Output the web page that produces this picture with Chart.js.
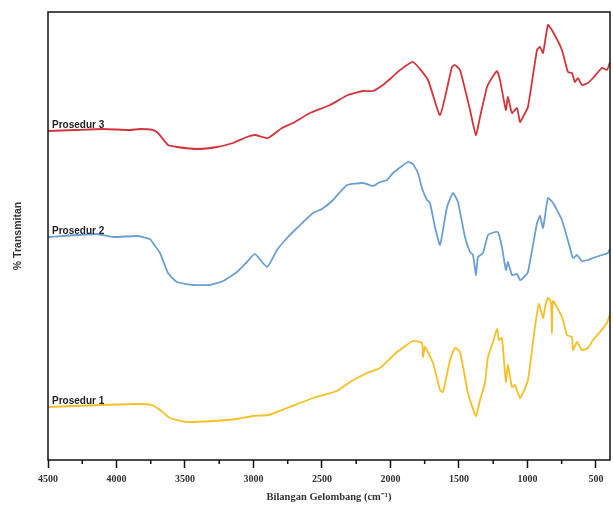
<!DOCTYPE html>
<html>
<head>
<meta charset="utf-8">
<script src="https://cdn.jsdelivr.net/npm/chart.js@4"></script>
<style>
  html, body { margin: 0; padding: 0; background: #fff; }
  #wrap { width: 613px; height: 507px; }
</style>
</head>
<body>
<div id="wrap"><canvas id="ftirChart"></canvas></div>
<script>
// bilangan gelombang (cm-1) dan nilai transmitan (satuan relatif, sudah digeser per sampel)
const wnP3 = [4500, 4300, 4100, 3900, 3828, 3734, 3697, 3624, 3558, 3412, 3266, 3150, 3047, 2989, 2894, 2792, 2712, 2587, 2441, 2310, 2200, 2128, 2055, 2003, 1930, 1835, 1726, 1638, 1551, 1529, 1492, 1419, 1376, 1346, 1295, 1259, 1222, 1200, 1157, 1142, 1113, 1076, 1054, 1032, 996, 930, 908, 886, 850, 813, 748, 704, 675, 653, 631, 602, 558, 521, 456, 419, 397];
const tP3  = [331, 332, 333, 332, 333, 332, 329, 317, 315, 313, 315, 319, 325, 327, 324, 334, 339, 349, 357, 367, 371, 371, 377, 383, 392, 400, 382, 347, 395, 397, 392, 352, 327, 345, 375, 384, 391, 382, 352, 365, 349, 354, 340, 345, 355, 412, 415, 409, 437, 430, 412, 390, 389, 380, 384, 377, 379, 384, 394, 392, 400];

const wnP2 = [4500, 4142, 4025, 3850, 3755, 3734, 3682, 3624, 3558, 3441, 3317, 3222, 3120, 3047, 2989, 2901, 2828, 2755, 2682, 2565, 2500, 2419, 2317, 2200, 2128, 2076, 2025, 1981, 1872, 1835, 1799, 1770, 1733, 1711, 1675, 1638, 1587, 1543, 1507, 1456, 1419, 1397, 1376, 1361, 1324, 1288, 1259, 1215, 1186, 1157, 1142, 1113, 1076, 1054, 1032, 996, 930, 908, 886, 850, 813, 748, 689, 667, 638, 602, 558, 521, 456, 412, 398];
const tP2  = [225, 228, 225, 226, 223, 219, 209, 189, 180, 177, 177, 181, 190, 200, 208, 195, 212, 224, 234, 249, 253, 262, 277, 279, 276, 280, 282, 289, 300, 298, 289, 274, 262, 259, 235, 217, 255, 269, 260, 225, 210, 207, 187, 205, 209, 227, 229, 230, 215, 192, 200, 187, 188, 182, 184, 190, 239, 246, 234, 264, 259, 242, 214, 204, 207, 201, 202, 204, 207, 209, 213];

const wnP1 = [4500, 4120, 3850, 3741, 3682, 3609, 3485, 3295, 3120, 3003, 2894, 2755, 2565, 2390, 2295, 2171, 2076, 1952, 1835, 1770, 1762, 1748, 1689, 1638, 1616, 1565, 1529, 1492, 1434, 1376, 1346, 1310, 1288, 1251, 1222, 1208, 1186, 1157, 1142, 1113, 1091, 1054, 1032, 996, 945, 916, 886, 872, 850, 828, 821, 813, 748, 711, 675, 667, 638, 602, 558, 521, 470, 419, 397];
const tP1  = [55, 57, 58, 57, 52, 44, 40, 41, 43, 46, 47, 54, 64, 71, 80, 89, 94, 110, 121, 119, 105, 115, 99, 72, 70, 102, 114, 110, 69, 46, 62, 79, 105, 120, 133, 122, 124, 80, 97, 75, 77, 64, 69, 82, 135, 158, 144, 154, 164, 160, 129, 161, 145, 127, 125, 112, 120, 112, 114, 122, 130, 139, 148];

const seriesNames = ['Prosedur 1', 'Prosedur 2', 'Prosedur 3'];
const majorTicks = [4500, 4000, 3500, 3000, 2500, 2000, 1500, 1000, 500];
const minorTicks = [4250, 3750, 3250, 2750, 2250, 1750, 1250, 750];

const toPoints = (xs, ys) => xs.map((x, i) => ({ x: x, y: ys[i] }));

// bingkai, tick minor dan label sampel
const framePlugin = {
    id: 'frame',
    afterDraw(chart) {
        const { ctx, chartArea: a, scales } = chart;
        ctx.save();
        ctx.strokeStyle = '#111';
        ctx.lineWidth = 1.5;
        ctx.strokeRect(a.left, a.top, a.right - a.left, a.bottom - a.top);

        ctx.beginPath();
        minorTicks.forEach(v => {
            const px = scales.x.getPixelForValue(v);
            ctx.moveTo(px, a.bottom);
            ctx.lineTo(px, a.bottom + 4);
        });
        ctx.stroke();

        ctx.font = 'bold 10px "Liberation Sans", Arial, sans-serif';
        ctx.fillStyle = '#222';
        ctx.textBaseline = 'alphabetic';
        chart.data.datasets.forEach(ds => {
            const py = scales.y.getPixelForValue(ds.data[0].y);
            ctx.fillText(ds.label, a.left + 4, py - 3);
        });
        ctx.restore();
    }
};

const ctx = document.getElementById('ftirChart').getContext('2d');
const ftirChart = new Chart(ctx, {
    type: 'line',
    data: {
        datasets: [
            { label: seriesNames[0], data: toPoints(wnP1, tP1), borderColor: '#f5bf25' },
            { label: seriesNames[1], data: toPoints(wnP2, tP2), borderColor: '#6b9fd3' },
            { label: seriesNames[2], data: toPoints(wnP3, tP3), borderColor: '#d2363c' }
        ]
    },
    options: {
        responsive: true,
        maintainAspectRatio: false,
        animation: false,
        layout: { padding: { top: 12, right: 3, left: 0, bottom: 0 } },
        elements: {
            line: { borderWidth: 1.8, tension: 0.15 },
            point: { radius: 0 }
        },
        scales: {
            x: {
                type: 'linear',
                reverse: true,
                min: 397,
                max: 4500,
                afterBuildTicks: s => { s.ticks = majorTicks.map(v => ({ value: v })); },
                afterFit: s => { s.height = 47; },
                ticks: {
                    color: '#333',
                    padding: 5,
                    maxRotation: 0,
                    callback: v => String(v),
                    font: { family: '"Liberation Serif", "Times New Roman", serif', size: 10, weight: 'bold' }
                },
                grid: {
                    drawOnChartArea: false,
                    drawTicks: true,
                    tickLength: 8,
                    tickColor: '#111',
                    tickWidth: 1.5
                },
                border: { display: false },
                title: {
                    display: true,
                    text: 'Bilangan Gelombang (cm⁻¹)',
                    color: '#333',
                    padding: { top: 0, bottom: 3 },
                    font: { family: '"Liberation Serif", "Times New Roman", serif', size: 10.5, weight: 'bold' }
                }
            },
            y: {
                min: 2,
                max: 450,
                afterFit: s => { s.width = 48; },
                ticks: { display: false },
                grid: { display: false },
                border: { display: false },
                title: {
                    display: true,
                    text: '% Transmitan',
                    color: '#333',
                    padding: { top: 12, bottom: 0 },
                    font: { family: '"Liberation Sans", Arial, sans-serif', size: 10.5, weight: 'bold' }
                }
            }
        },
        plugins: {
            legend: { display: false },
            tooltip: { enabled: false }
        }
    },
    plugins: [framePlugin]
});
</script>
</body>
</html>
